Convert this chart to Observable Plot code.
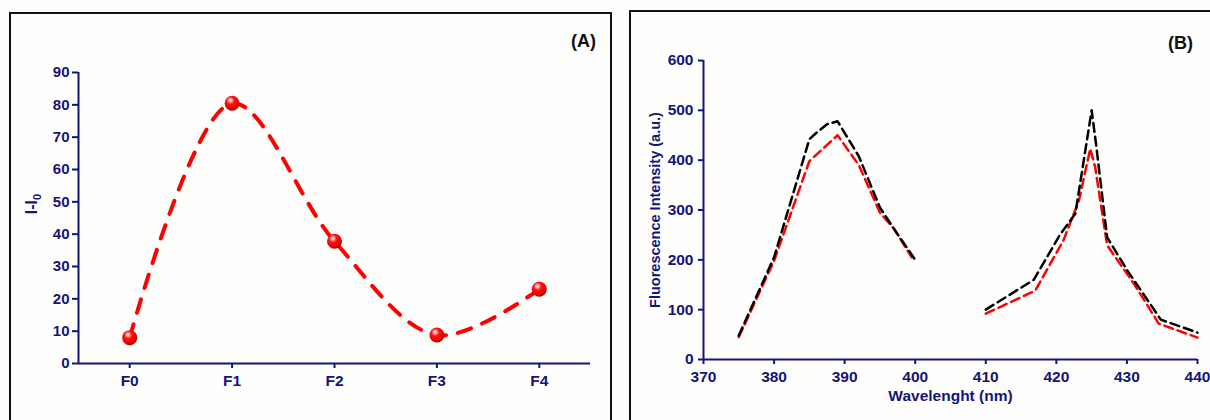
<!DOCTYPE html>
<html>
<head>
<meta charset="utf-8">
<script src="https://cdn.jsdelivr.net/npm/d3@7"></script>
<script src="https://cdn.jsdelivr.net/npm/@observablehq/plot@0.6"></script>
<style>
  html, body { margin: 0; padding: 0; background: #ffffff; }
  #page { position: relative; width: 1210px; height: 420px; overflow: hidden; background: #fefefd;
          font-family: "Liberation Sans", Arial, sans-serif; }
  .frame { position: absolute; border: 2px solid #111; box-sizing: border-box; }
  .plot { position: absolute; top: 0; }
  .tag { position: absolute; font-weight: bold; font-size: 18px; color: #111; }
  .ylab { position: absolute; font-weight: bold; font-size: 16px; color: #14147a; white-space: nowrap;
          transform: translate(-50%, -50%) rotate(-90deg); }
  .ylab sub { font-size: 11px; }
</style>
</head>
<body>
<div id="page">
  <div class="frame" style="left:9px; top:12px; width:603px; height:430px;"></div>
  <div class="frame" style="left:629px; top:10px; width:600px; height:430px;"></div>
  <div id="plotA" class="plot" style="left:0px;"></div>
  <div id="plotB" class="plot" style="left:620px;"></div>
  <div class="tag" style="left:571px; top:31px;">(A)</div>
  <div class="tag" style="left:1168px; top:33px;">(B)</div>
  <div class="ylab" style="left:33px; top:204px;">I-I<sub>0</sub></div>
</div>
<script>
// ---------- Panel A data ----------
const categoriesA = ["F0", "F1", "F2", "F3", "F4"];
const valuesA = [8, 80.5, 37.8, 8.8, 23];
const yTicksA = [0, 10, 20, 30, 40, 50, 60, 70, 80, 90];

// ---------- Panel B data ----------
const xTicksB = [370, 380, 390, 400, 410, 420, 430, 440];
const yTicksB = [0, 100, 200, 300, 400, 500, 600];
// black series, first band
const blackWl1 = [375, 380, 385, 386, 387.5, 389, 392, 395, 397, 400];
const blackV1  = [48, 205, 442, 455, 472, 478, 408, 305, 262, 200];
// black series, second band
const blackWl2 = [410, 416.8, 420.5, 422.7, 424, 425, 425.6, 427.2, 430, 434.8, 440];
const blackV2  = [100, 160, 250, 293, 410, 500, 435, 245, 180, 80, 54];
// red series, first band
const redWl1 = [375, 380, 385, 389, 392, 395, 397, 399.5];
const redV1  = [45, 198, 398, 450, 390, 295, 262, 205];
// red series, second band
const redWl2 = [410, 417, 421, 423.2, 424.8, 425.5, 427.2, 431, 434.5, 440];
const redV2  = [92, 138, 239, 319, 423, 386, 229, 152, 72, 44];

const navy = "#14147a";
const font = '"Liberation Sans", Arial, sans-serif';
const baseStyle = {fontFamily: font, fontSize: "15px", fontWeight: "bold", background: "transparent", overflow: "visible"};

// ---------- Panel A ----------
const idxA = categoriesA.map((_, i) => i);
const dataA = categoriesA.map((c, i) => ({i, c, v: valuesA[i]}));

const plotA = Plot.plot({
  width: 620, height: 420,
  marginLeft: 78, marginRight: 30, marginTop: 72, marginBottom: 57,
  style: baseStyle,
  x: {domain: [-0.5, categoriesA.length - 0.5]},
  y: {domain: [0, 90]},
  marks: [
    Plot.axisY({ticks: yTicksA, tickSize: 6, tickPadding: 3, color: navy, strokeWidth: 2, label: null, fontSize: 15, fontWeight: "bold"}),
    Plot.axisX({ticks: idxA, tickFormat: i => categoriesA[i], tickSize: 5, tickPadding: 6, color: navy, strokeWidth: 2, label: null, fontSize: 15.5, fontWeight: "bold"}),
    Plot.ruleY([0], {stroke: navy, strokeWidth: 2}),
    Plot.ruleX([-0.5], {stroke: navy, strokeWidth: 2}),
    Plot.line(dataA, {x: "i", y: "v", curve: "catmull-rom", stroke: "#f00", strokeWidth: 4, strokeDasharray: "14,12"}),
    Plot.dot(dataA, {x: "i", y: "v", r: 7.5, fill: "url(#ballGrad)", stroke: "none"})
  ]
});
const ns = "http://www.w3.org/2000/svg";
const defs = document.createElementNS(ns, "defs");
defs.innerHTML = '<radialGradient id="ballGrad" cx="0.4" cy="0.35" r="0.65" fx="0.38" fy="0.3">' +
  '<stop offset="0" stop-color="#ffffff"/>' +
  '<stop offset="0.18" stop-color="#ff9a9a"/>' +
  '<stop offset="0.4" stop-color="#ff1010"/>' +
  '<stop offset="0.85" stop-color="#e00000"/>' +
  '<stop offset="1" stop-color="#a80000"/></radialGradient>';
plotA.prepend(defs);
document.getElementById("plotA").appendChild(plotA);

// ---------- Panel B ----------
const rowsB = [];
function addSeg(wl, v, series, seg) {
  wl.forEach((w, k) => rowsB.push({wl: w, v: v[k], series, key: series + seg}));
}
addSeg(redWl1, redV1, "red", 1);
addSeg(redWl2, redV2, "red", 2);
addSeg(blackWl1, blackV1, "black", 1);
addSeg(blackWl2, blackV2, "black", 2);

const plotB = Plot.plot({
  width: 590, height: 420,
  marginLeft: 83, marginRight: 13, marginTop: 60, marginBottom: 61,
  style: baseStyle,
  x: {domain: [370, 440]},
  y: {domain: [0, 600]},
  marks: [
    Plot.axisY({ticks: yTicksB, tickSize: 5, tickPadding: 5, color: navy, strokeWidth: 2, label: null, fontSize: 15.5, fontWeight: "bold"}),
    Plot.axisX({ticks: xTicksB, tickSize: 5, tickPadding: 6, color: navy, strokeWidth: 2, label: null, fontSize: 15.5, fontWeight: "bold"}),
    Plot.ruleY([0], {stroke: navy, strokeWidth: 2}),
    Plot.ruleX([370], {stroke: navy, strokeWidth: 2}),
    Plot.text(["Fluorescence Intensity (a.u.)"], {frameAnchor: "left", textAnchor: "middle", lineAnchor: "middle", rotate: -90, dx: -48, fill: navy, fontSize: 14.5, fontWeight: "bold"}),
    Plot.text(["Wavelenght (nm)"], {frameAnchor: "bottom", textAnchor: "middle", dy: 41, fill: navy, fontSize: 15.5, fontWeight: "bold"}),
    Plot.line(rowsB.filter(d => d.series === "red"), {x: "wl", y: "v", z: "key", stroke: "#f00", strokeWidth: 2.5, strokeDasharray: "9,5"}),
    Plot.line(rowsB.filter(d => d.series === "black"), {x: "wl", y: "v", z: "key", stroke: "#000", strokeWidth: 2.5, strokeDasharray: "9,5"})
  ]
});
document.getElementById("plotB").appendChild(plotB);
</script>
</body>
</html>
